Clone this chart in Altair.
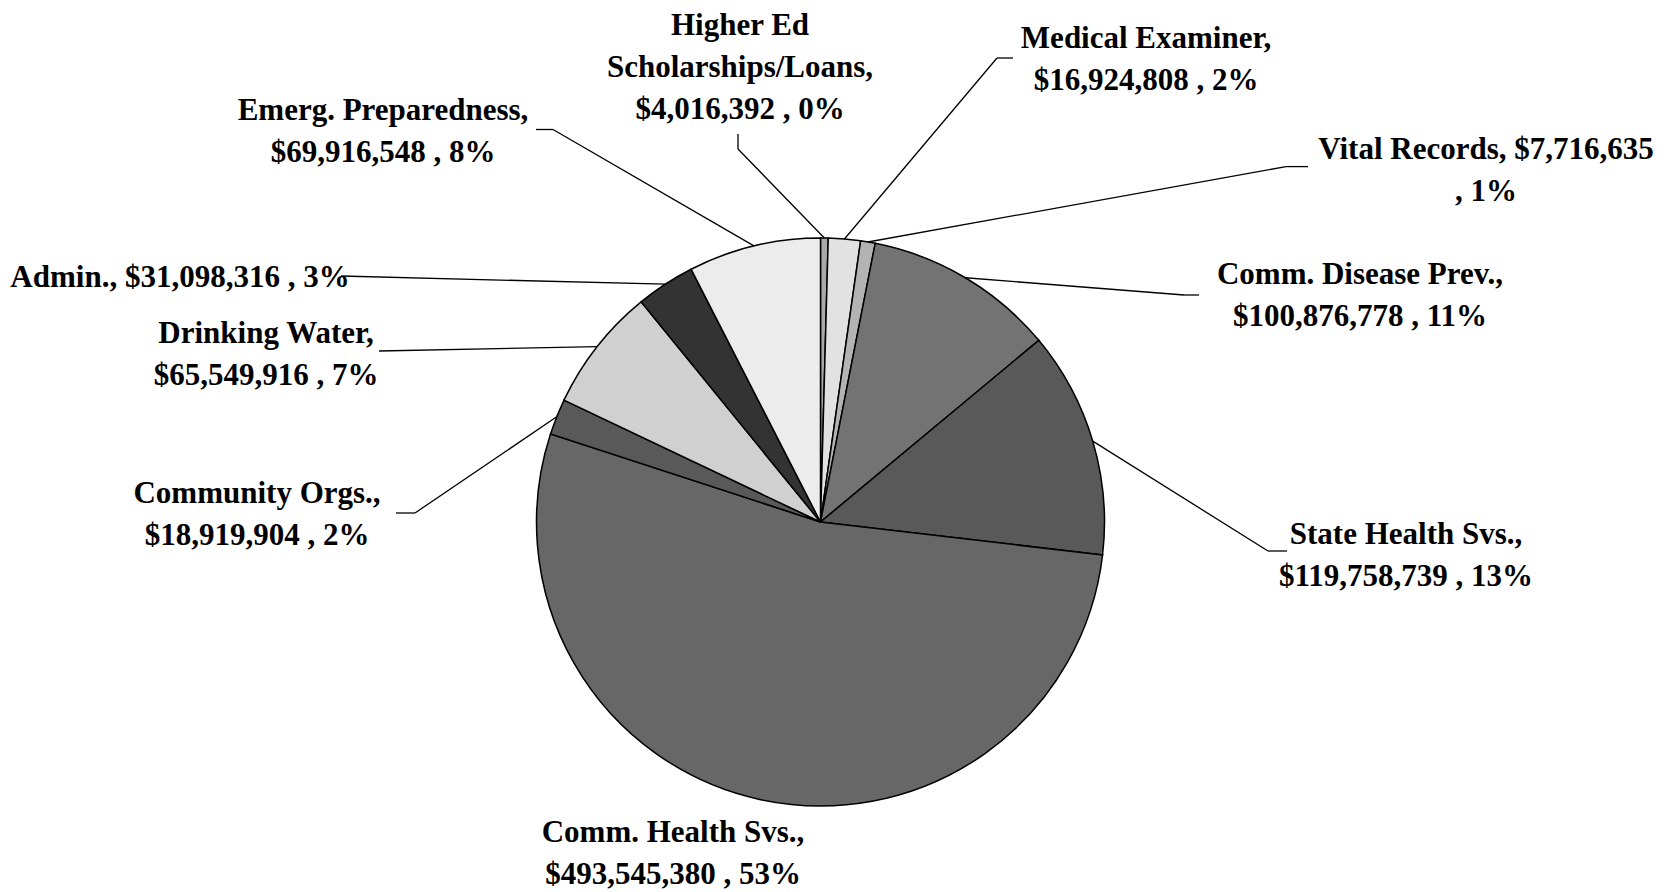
import altair as alt
import pandas as pd

# ---- data ----
categories = ["Higher Ed Scholarships/Loans", "Medical Examiner", "Vital Records",
              "Comm. Disease Prev.", "State Health Svs.", "Comm. Health Svs.",
              "Community Orgs.", "Drinking Water", "Admin.", "Emerg. Preparedness"]
values = [4016392, 16924808, 7716635, 100876778, 119758739, 493545380,
          18919904, 65549916, 31098316, 69916548]
percents = ["0%", "2%", "1%", "11%", "13%", "53%", "2%", "7%", "3%", "8%"]
# label text (line breaks as in the original)
label_names = ["Higher Ed\nScholarships/Loans,\n", "Medical Examiner,\n", "Vital Records, ",
               "Comm. Disease Prev.,\n", "State Health Svs.,\n", "Comm. Health Svs.,\n",
               "Community Orgs.,\n", "Drinking Water,\n", "Admin., ", "Emerg. Preparedness,\n"]
value_sep = [" , ", " , ", "\n, ", " , ", " , ", " , ", " , ", " , ", " , ", " , "]

# ---- styles / layout ----
colors = ["#a9a9a9", "#e2e2e2", "#b3b3b3", "#737373", "#595959", "#676767",
          "#595959", "#d0d0d0", "#333333", "#ececec"]
CX, CY, R = 812.5, 514, 284
label_x = [732, 1138, 1478, 1352, 1398, 665, 249, 258, 172, 375]
label_y = [18, 31, 142, 267, 527, 825, 486, 326, 270, 103]   # first-line centres
has_leader = [True, True, True, True, True, False, True, True, True, True]
elbow_x = [730, 989, 1278, 1176, 1260, 0, 407, 371, 333, 545]
elbow_y = [141, 50, 158.6, 287, 543, 0, 505, 343, 268, 121.5]
end_x = [730, 1005, 1300, 1191, 1279, 0, 388, 371, 333, 528]
end_y = [126, 50, 158.6, 287, 543, 0, 505, 343, 268, 121.5]

labels = [f"{n}${v:,}{s}{p}" for n, v, s, p in zip(label_names, values, value_sep, percents)]

df = pd.DataFrame({
    "idx": list(range(len(categories))),
    "category": categories,
    "value": values,
    "label": labels,
    "lx": label_x, "ly": label_y,
    "leader": has_leader,
    "ex": elbow_x, "ey": elbow_y,
    "tx": end_x, "ty": end_y,
})

base = alt.Chart(df)

pie = base.mark_arc(radius=R, stroke="black", strokeWidth=1.5).encode(
    theta=alt.Theta("value:Q", stack=True),
    order=alt.Order("idx:Q"),
    color=alt.Color("category:N", scale=alt.Scale(domain=categories, range=colors), legend=None),
    x=alt.value(CX), y=alt.value(CY),
)

leaders = base.transform_window(
    cum="sum(value)", sort=[alt.SortField("idx")], frame=[None, 0]
).transform_joinaggregate(
    total="sum(value)"
).transform_calculate(
    mid="(datum.cum - datum.value/2) / datum.total * 2 * PI",
).transform_calculate(
    px=f"{CX} + {R} * sin(datum.mid)",
    py=f"{CY} - {R} * cos(datum.mid)",
).transform_filter("datum.leader")

seg1 = leaders.mark_rule(color="black", strokeWidth=1.3).encode(
    x=alt.X("px:Q", scale=None), y=alt.Y("py:Q", scale=None),
    x2="ex:Q", y2="ey:Q",
)
seg2 = leaders.mark_rule(color="black", strokeWidth=1.3).encode(
    x=alt.X("ex:Q", scale=None), y=alt.Y("ey:Q", scale=None),
    x2="tx:Q", y2="ty:Q",
)

text = base.mark_text(
    font="Liberation Serif", fontWeight="bold", fontSize=31, lineBreak="\n",
    lineHeight=42, align="center", baseline="middle", color="black",
).encode(
    x=alt.X("lx:Q", scale=None), y=alt.Y("ly:Q", scale=None), text="label:N",
)

chart = alt.layer(pie, seg1, seg2, text).properties(
    width=1648, height=884, autosize="none", padding=0,
).configure_view(stroke=None)

chart.save("out.html", embed_options={"renderer": "svg", "actions": False})
